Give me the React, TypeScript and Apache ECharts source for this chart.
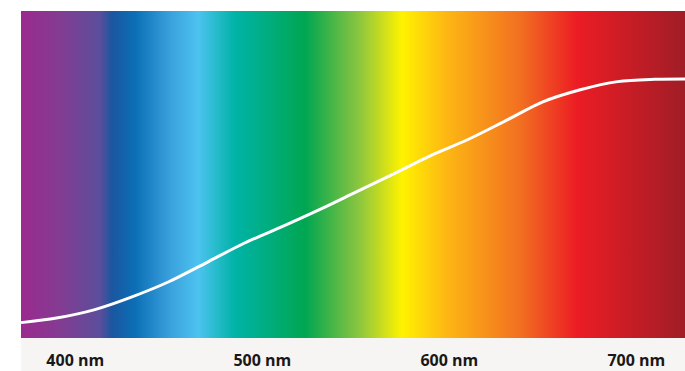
import React, { useEffect, useRef } from "react";
import * as echarts from "echarts";

// Wavelength (nm) of each sampled point of the curve
const wavelengths = [371, 390, 410, 430, 450, 470, 490, 510, 530, 550, 570, 590, 610, 630, 650, 670, 690, 710, 726];
// Relative response (0-100)
const response = [4.7, 6.1, 8.6, 12.5, 17.2, 23.0, 28.9, 33.9, 39.1, 44.6, 50.1, 55.8, 60.7, 66.4, 72.2, 75.9, 78.4, 79.1, 79.2];
// Tick labels on the wavelength axis
const tickValues = [400, 500, 600, 700];
const axisMin = 371;
const axisMax = 726;

// Spectrum colours across the plot (offset 0..1, colour)
const spectrumOffsets = [0, 0.059, 0.119, 0.137, 0.172, 0.224, 0.267, 0.322, 0.428, 0.51, 0.574, 0.639, 0.752, 0.837, 1];
const spectrumColors = [
  "#9b2a8e", "#833c92", "#5b4e9b", "#1b56a0", "#0b6fb6", "#3aa0dc", "#4cc3f0",
  "#00b3a7", "#00a651", "#8dc63f", "#fff200", "#fdb813", "#f26f21", "#ec1c24", "#a01d27",
];

export default function App() {
  const ref = useRef<HTMLDivElement>(null);
  useEffect(() => {
    if (!ref.current) return;
    const chart = echarts.init(ref.current, undefined, { renderer: "svg" });
    const gradient = new echarts.graphic.LinearGradient(
      0, 0, 1, 0,
      spectrumOffsets.map((o, i) => ({ offset: o, color: spectrumColors[i] }))
    );
    chart.setOption({
      animation: false,
      backgroundColor: "#ffffff",
      graphic: [
        {
          type: "rect",
          left: 21,
          bottom: 0,
          shape: { width: 664, height: 33 },
          style: { fill: "#f6f5f3" },
          z: -10,
        },
      ],
      grid: {
        left: 21,
        right: 0,
        top: 11,
        bottom: 33,
        show: true,
        borderWidth: 0,
        backgroundColor: gradient,
      },
      xAxis: {
        type: "value",
        min: axisMin,
        max: axisMax,
        axisLine: { show: false },
        axisTick: { show: false },
        splitLine: { show: false },
        axisLabel: {
          customValues: tickValues,
          formatter: "{value} nm",
          color: "#1a1718",
          fontFamily: "Open Sans",
          fontWeight: "bold",
          fontSize: 16,
          lineHeight: 16,
          margin: 14,
        },
      },
      yAxis: {
        type: "value",
        min: 0,
        max: 100,
        show: false,
        splitLine: { show: false },
      },
      series: [
        {
          type: "line",
          data: wavelengths.map((w, i) => [w, response[i]]),
          smooth: 0.3,
          symbol: "none",
          lineStyle: { color: "#ffffff", width: 3 },
        },
      ],
    });
    return () => chart.dispose();
  }, []);
  return (
    <div
      ref={ref}
      style={{ position: "absolute", left: 0, top: 0, width: 685, height: 371 }}
    />
  );
}
